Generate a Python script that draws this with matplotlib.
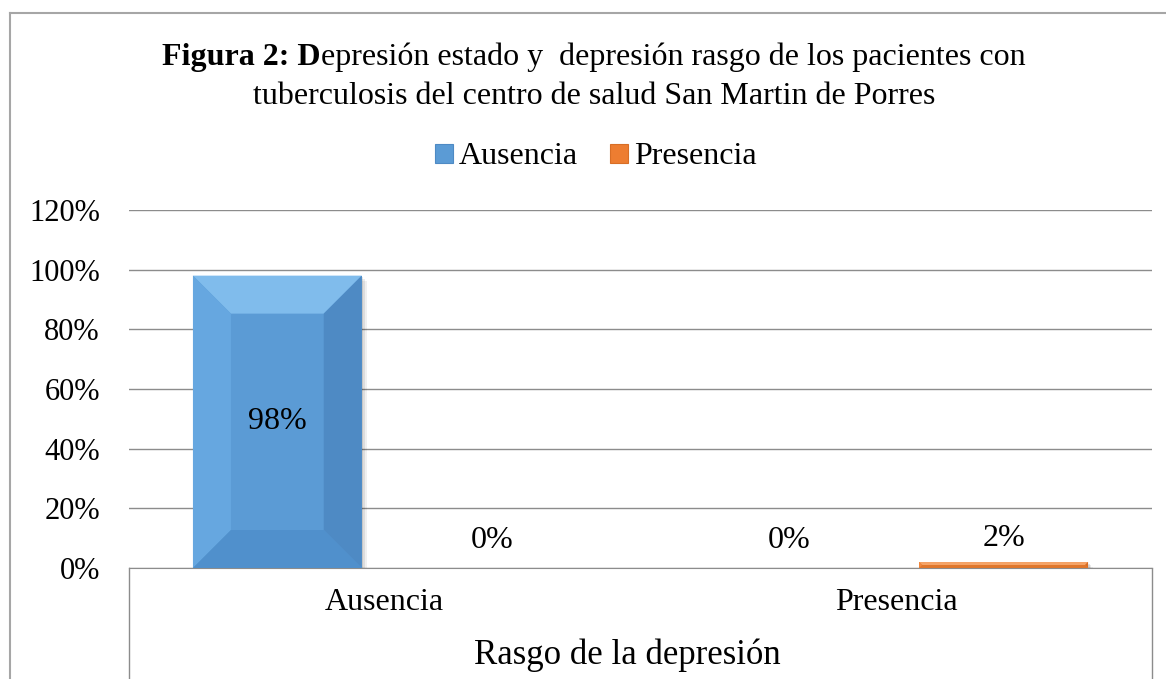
import numpy as np
import matplotlib.pyplot as plt
from matplotlib.patches import Patch, Polygon, Rectangle
from matplotlib.lines import Line2D

# data
categories = ['Ausencia', 'Presencia']
series_names = ['Ausencia', 'Presencia']
ausencia = [98, 0]
presencia = [0, 2]
yticks = [0, 20, 40, 60, 80, 100, 120]

plt.rcParams['font.family'] = ['Liberation Serif', 'DejaVu Serif']
FS = 23

# main, top, left, right, bottom faces
colors = {'Ausencia': ('#5B9BD5', '#80BCEC', '#66A7E0', '#4E8AC4', '#5090CC'),
          'Presencia': ('#ED7D31', '#F5A468', '#F08A42', '#D86E26', '#E0772C')}

W, H = 1166, 679
fig = plt.figure(figsize=(W / 100, H / 100), dpi=100)

# outer chart frame (cut off at right/bottom)
fig.add_artist(Line2D([10 / W, 1], [1 - 13 / H, 1 - 13 / H], color='#A6A6A6', lw=1.5))
fig.add_artist(Line2D([10 / W, 10 / W], [0, 1 - 13 / H], color='#A6A6A6', lw=1.5))

ax = fig.add_axes([129 / W, (H - 568) / H, (1152 - 129) / W, (568 - 210) / H])
ax.set_xlim(-0.5, 1.5)
ax.set_ylim(0, 120)

x = np.arange(len(categories))
bw = 0.33
off = 0.21
b1 = ax.bar(x - off, ausencia, bw, color=colors['Ausencia'][0], zorder=3)
b2 = ax.bar(x + off, presencia, bw, color=colors['Presencia'][0], zorder=3)

ax.set_yticks(yticks)
ax.set_yticklabels([f'{v}%' for v in yticks], fontsize=22)
ax.tick_params(axis='y', length=0, pad=21)
ax.set_xticks([])
ax.yaxis.grid(True, color='#8C8C8C', lw=1)
ax.set_axisbelow(True)
for s in ['left', 'right', 'top']:
    ax.spines[s].set_visible(False)
ax.spines['bottom'].set_color('#8C8C8C')

# category axis box lines
ax.plot([0, 0], [0, -0.32], transform=ax.transAxes, color='#8C8C8C', lw=1, clip_on=False)
ax.plot([1, 1], [0, -0.32], transform=ax.transAxes, color='#8C8C8C', lw=1, clip_on=False)
for xi, c in zip(x, categories):
    ax.text(xi, -35 / 358 * 120, c, ha='center', va='center', fontsize=FS)
ax.text((627 - 129) / 1023, -87 / 358, 'Rasgo de la depresión', transform=ax.transAxes,
        ha='center', va='center', fontsize=25)

# bevel effect on bars
fig.canvas.draw()
inv = ax.transData.inverted()


def bevel(rect, cols):
    x0, y0 = ax.transData.transform((rect.get_x(), rect.get_y()))
    x1, y1 = ax.transData.transform((rect.get_x() + rect.get_width(), rect.get_y() + rect.get_height()))
    if y1 - y0 < 1:
        return
    d = min(38, (y1 - y0) / 2, (x1 - x0) / 2)
    # soft shadow
    for k, a in [(5, 0.06), (3, 0.08), (1.5, 0.1)]:
        sh = inv.transform([(x0 + k, y0 - k), (x1 + k, y1 - k)])
        ax.add_patch(Rectangle(sh[0], sh[1][0] - sh[0][0], sh[1][1] - sh[0][1],
                               color='#000000', alpha=a, zorder=2.5, lw=0))
    faces = [
        ([(x0, y1), (x1, y1), (x1 - d, y1 - d), (x0 + d, y1 - d)], cols[1]),
        ([(x0, y0), (x0, y1), (x0 + d, y1 - d), (x0 + d, y0 + d)], cols[2]),
        ([(x1, y0), (x1, y1), (x1 - d, y1 - d), (x1 - d, y0 + d)], cols[3]),
        ([(x0, y0), (x1, y0), (x1 - d, y0 + d), (x0 + d, y0 + d)], cols[4]),
    ]
    for pts, c in faces:
        ax.add_patch(Polygon(inv.transform(pts), closed=True, color=c, lw=0, zorder=3.5))


for r in b1:
    bevel(r, colors['Ausencia'])
for r in b2:
    bevel(r, colors['Presencia'])

# data labels
for r, v in zip(list(b1) + list(b2), ausencia + presencia):
    cx = r.get_x() + r.get_width() / 2
    if v > 50:
        ax.text(cx, v / 2, f'{v}%', ha='center', va='center', fontsize=FS, zorder=5)
    else:
        ax.annotate(f'{v}%', (cx, v), xytext=(0, 28 - 2 * v), textcoords='offset pixels',
                    ha='center', va='center', fontsize=FS, zorder=5)

# legend
handles = [Patch(facecolor=colors[n][0], edgecolor=colors[n][3], lw=0.8) for n in series_names]
fig.legend(handles, series_names, loc='center', bbox_to_anchor=(596 / W, 1 - 157 / H),
           ncol=2, frameon=False, fontsize=FS, handlelength=0.55, handleheight=0.55,
           handletextpad=0.2, columnspacing=1.0)

# title: bold prefix + regular text
cx_t = 594 / W
bold_part = 'Figura 2: D'
rest1 = 'epresión estado y  depresión rasgo de los pacientes con'
line2 = 'tuberculosis del centro de salud San Martin de Porres'
renderer = fig.canvas.get_renderer()
tb = fig.text(0, 1 - 57 / H, bold_part, fontsize=FS, fontweight='bold', va='center', ha='left')
tr = fig.text(0, 1 - 57 / H, rest1, fontsize=FS, va='center', ha='left')
wb = tb.get_window_extent(renderer).width / W
wr = tr.get_window_extent(renderer).width / W
start = cx_t - (wb + wr) / 2
tb.set_x(start)
tr.set_x(start + wb)
fig.text(cx_t, 1 - 97 / H, line2, fontsize=FS, va='center', ha='center')

fig.savefig('out.png', dpi=100)
